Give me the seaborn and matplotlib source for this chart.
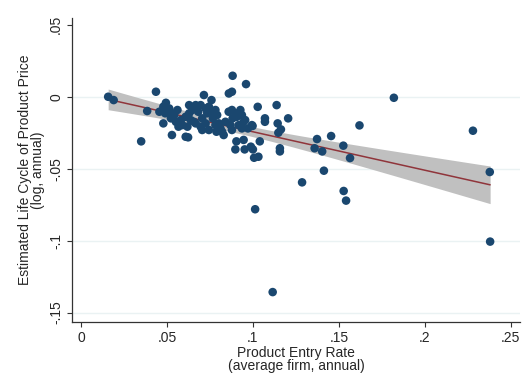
import numpy as np
import pandas as pd
import matplotlib
matplotlib.use("Agg")
import matplotlib.pyplot as plt
import seaborn as sns

# Product entry rate (x) and estimated life cycle of product price (y)
entry_rate = [
    0.0158, 0.0190, 0.0436, 0.0350, 0.0385, 0.0882, 0.0960, 0.0878, 0.0860,
    0.1028, 0.1138, 0.1070, 0.1070, 0.1205, 0.1144, 0.1163, 0.1148, 0.1157,
    0.1157, 0.1040, 0.1007, 0.1032, 0.0898, 0.0952, 0.0904, 0.0946, 0.0988,
    0.1000, 0.0998, 0.0623, 0.1820, 0.2280, 0.2378, 0.2380, 0.1115, 0.1013,
    0.1286, 0.1413, 0.1528, 0.1542, 0.1620, 0.1455, 0.1373, 0.1359, 0.1403,
    0.1526, 0.1565,
    0.0494, 0.0479, 0.0513, 0.0456, 0.0490, 0.0523, 0.0542, 0.0561, 0.0523,
    0.0552, 0.0479, 0.0567, 0.0590, 0.0581, 0.0609, 0.0629, 0.0648, 0.0667,
    0.0682, 0.0629, 0.0638, 0.0657, 0.0619, 0.0609, 0.0529, 0.0696, 0.0705,
    0.0715, 0.0725, 0.0734, 0.0744, 0.0754, 0.0759, 0.0767, 0.0782, 0.0792,
    0.0802, 0.0811, 0.0821, 0.0830, 0.0788, 0.0744, 0.0705, 0.0840, 0.0859,
    0.0878, 0.0898, 0.0907, 0.0927, 0.0936, 0.0946, 0.0955, 0.0882, 0.0869,
    0.0878, 0.0917, 0.0936, 0.0994, 0.0971, 0.0782, 0.0725, 0.0667, 0.0696,
]
price_cycle = [
    0.0000, -0.0023, 0.0035, -0.0310, -0.0099, 0.0146, 0.0088, 0.0035, 0.0023,
    -0.0070, -0.0058, -0.0150, -0.0174, -0.0150, -0.0185, -0.0227, -0.0250, -0.0358,
    -0.0380, -0.0310, -0.0424, -0.0417, -0.0366, -0.0366, -0.0310, -0.0300, -0.0347,
    -0.0366, -0.0203, -0.0282, -0.0007, -0.0236, -0.0523, -0.1007, -0.1358, -0.0782,
    -0.0595, -0.0514, -0.0655, -0.0722, -0.0199, -0.0273, -0.0294, -0.0358, -0.0380,
    -0.0340, -0.0426,
    -0.0042, -0.0069, -0.0081, -0.0104, -0.0115, -0.0111, -0.0127, -0.0092, -0.0150,
    -0.0174, -0.0185, -0.0208, -0.0197, -0.0162, -0.0139, -0.0058, -0.0092, -0.0058,
    -0.0104, -0.0115, -0.0162, -0.0174, -0.0208, -0.0278, -0.0266, -0.0208, -0.0150,
    0.0012, -0.0081, -0.0115, -0.0069, -0.0104, -0.0023, -0.0150, -0.0092, -0.0127,
    -0.0185, -0.0220, -0.0243, -0.0266, -0.0243, -0.0231, -0.0231, -0.0174, -0.0104,
    -0.0092, -0.0115, -0.0139, -0.0092, -0.0127, -0.0174, -0.0162, -0.0150, -0.0197,
    -0.0231, -0.0197, -0.0220, -0.0197, -0.0220, -0.0197, -0.0185, -0.0185, -0.0058,
]

x_ticks = [0, 0.05, 0.1, 0.15, 0.2, 0.25]
x_labels = ["0", ".05", ".1", ".15", ".2", ".25"]
y_ticks = [-0.15, -0.1, -0.05, 0, 0.05]
y_labels = ["-.15", "-.1", "-.05", "0", ".05"]

df = pd.DataFrame({"x": entry_rate, "y": price_cycle})

# linear fit with 95% confidence band (like Stata lfitci)
x = df["x"].to_numpy()
y = df["y"].to_numpy()
n = len(x)
b1, b0 = np.polyfit(x, y, 1)
resid = y - (b0 + b1 * x)
s = np.sqrt(np.sum(resid ** 2) / (n - 2))
grid = np.linspace(x.min(), x.max(), 100)
se = s * np.sqrt(1 / n + (grid - x.mean()) ** 2 / np.sum((x - x.mean()) ** 2))
fit = pd.DataFrame({"x": grid, "y": b0 + b1 * grid, "lo": b0 + b1 * grid - 1.984 * se,
                    "hi": b0 + b1 * grid + 1.984 * se})

sns.set_style("white")
plt.rcParams["font.family"] = ["Liberation Sans", "DejaVu Sans"]

fig = plt.figure(figsize=(5.26, 3.85), dpi=100)
ax = fig.add_axes([0.137, 0.164, 0.852, 0.789])

ax.fill_between(fit["x"], fit["lo"], fit["hi"], color="#c0c0c0", linewidth=0, zorder=1)
sns.lineplot(data=fit, x="x", y="y", color="#90353b", linewidth=1.1, ax=ax, zorder=2)
sns.scatterplot(data=df, x="x", y="y", color="#1a476f", s=38, edgecolor="none",
                ax=ax, zorder=3)

for yv in y_ticks[:-1]:
    ax.axhline(yv, color="#eaf2f3", linewidth=1, zorder=0)

ax.set_xlim(-0.0052, 0.2555)
ax.set_ylim(-0.1565, 0.0547)
ax.set_xticks(x_ticks)
ax.set_xticklabels(x_labels)
ax.set_yticks(y_ticks)
ax.set_yticklabels(y_labels, rotation=90, va="center")
ax.tick_params(axis="both", direction="out", length=3.5, width=0.8, color="#333333",
               labelsize=10, pad=3, left=True, bottom=True)

for side in ["top", "right"]:
    ax.spines[side].set_visible(False)
for side in ["left", "bottom"]:
    ax.spines[side].set_color("#333333")
    ax.spines[side].set_linewidth(0.9)

ax.set_xlabel("Product Entry Rate\n(average firm, annual)", fontsize=10, linespacing=0.9)
ax.xaxis.set_label_coords(0.5, -0.079)
ax.xaxis.label.set_va("top")
ax.set_ylabel("Estimated Life Cycle of Product Price\n(log, annual)", fontsize=10,
              linespacing=0.88)
ax.yaxis.set_label_coords(-0.06, 0.5)

fig.savefig("out.png", dpi=100)
